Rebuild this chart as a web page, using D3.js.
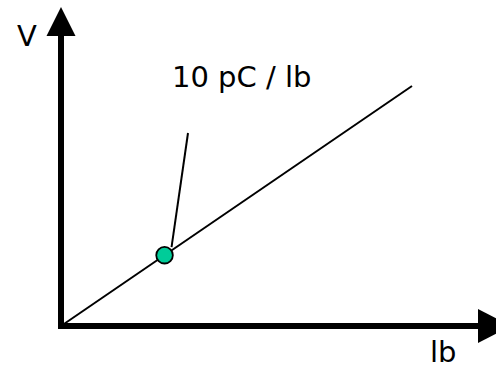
<!DOCTYPE html>
<html>
<head>
<meta charset="utf-8">
<script src="https://cdn.jsdelivr.net/npm/d3@7"></script>
<style>
  html, body { margin: 0; padding: 0; background: #fff; }
  svg { display: block; }
  text { font-family: "DejaVu Sans", sans-serif; fill: #000; }
</style>
</head>
<body>
<svg id="chart" width="496" height="369"></svg>
<script>
// Data
const xDomain = [0, 10];           // lb
const yDomain = [0, 100];          // V
const lineLb = [0, 10];
const lineV = [0, 100];
const pointLb = [2.95];
const pointV = [29.5];
const xLabel = "lb";
const yLabel = "V";
const annotation = "10 pC / lb";

const svg = d3.select("#chart");
const x = d3.scaleLinear().domain(xDomain).range([61, 412]);
const y = d3.scaleLinear().domain(yDomain).range([326, 86]);

// Axes with arrowheads
const ax = svg.append("g");
ax.append("line")
  .attr("x1", x(0) - 3).attr("x2", 478)
  .attr("y1", y(0)).attr("y2", y(0))
  .attr("stroke", "#000").attr("stroke-width", 6);
ax.append("path")
  .attr("d", `M478,${y(0) - 17} L511,${y(0)} L478,${y(0) + 17} Z`)
  .attr("fill", "#000");
ax.append("line")
  .attr("x1", x(0)).attr("x2", x(0))
  .attr("y1", y(0) + 3).attr("y2", 34)
  .attr("stroke", "#000").attr("stroke-width", 6);
ax.append("path")
  .attr("d", `M${x(0) - 14.5},36 L${x(0)},7 L${x(0) + 14.5},36 Z`)
  .attr("fill", "#000");

// Line
const data = lineLb.map((d, i) => ({lb: d, v: lineV[i]}));
svg.append("path")
  .datum(data)
  .attr("fill", "none")
  .attr("stroke", "#000")
  .attr("stroke-width", 2)
  .attr("d", d3.line().x(d => x(d.lb)).y(d => y(d.v)));

// Annotation leader
const px = x(pointLb[0]), py = y(pointV[0]);
svg.append("line")
  .attr("x1", px + 7).attr("y1", py - 8)
  .attr("x2", 188).attr("y2", 133)
  .attr("stroke", "#000").attr("stroke-width", 2);

// Point
svg.selectAll("circle.pt")
  .data(pointLb.map((d, i) => ({lb: d, v: pointV[i]})))
  .enter().append("circle")
  .attr("class", "pt")
  .attr("cx", d => x(d.lb)).attr("cy", d => y(d.v))
  .attr("r", 8.3)
  .attr("fill", "#00CC99")
  .attr("stroke", "#000").attr("stroke-width", 1.8);

// Texts
svg.append("text").attr("x", 172).attr("y", 87)
  .attr("font-size", 29).text(annotation);
svg.append("text").attr("x", 17).attr("y", 46)
  .attr("font-size", 29).text(yLabel);
svg.append("text").attr("x", 430).attr("y", 362)
  .attr("font-size", 29).text(xLabel);
</script>
</body>
</html>
